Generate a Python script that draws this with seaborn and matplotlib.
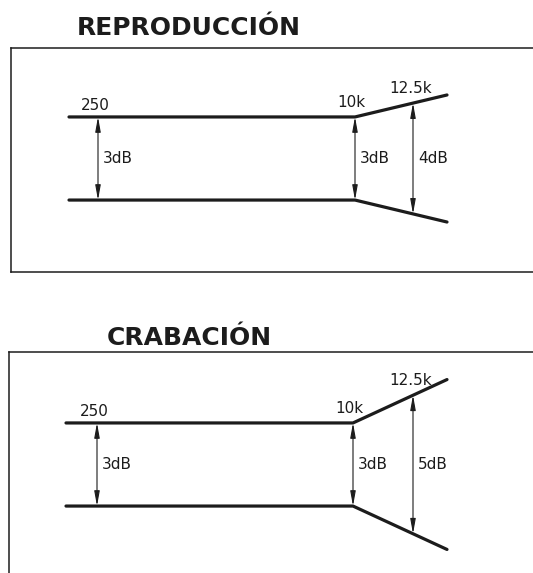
import pandas as pd
import matplotlib.pyplot as plt
import seaborn as sns

# tolerance windows (dB) at each reference frequency
titles = ["REPRODUCCIÓN", "CRABACIÓN"]
freq_labels = ["250", "10k", "12.5k"]
tol_reproduccion = [3, 3, 4]
tol_grabacion = [3, 3, 5]
tolerances = [tol_reproduccion, tol_grabacion]

W, H = 533, 573
PX_DB = 27.7  # pixels per dB in the schematic
INK = "#1c1c1c"

# layout of each panel in pixel units (box = left, top, right, bottom)
panels = [
    dict(box=(11, 48, 560, 272), center=158.5, title_y=28, start=69, end=447,
         marks=(98, 355, 413)),
    dict(box=(9, 352, 560, 610), center=464.5, title_y=338, start=66, end=447,
         marks=(97, 353, 413)),
]

sns.set_theme(style="white")
plt.rcParams["font.family"] = ["DejaVu Sans"]

fig = plt.figure(figsize=(W / 100, H / 100), dpi=100)
fig.patch.set_facecolor("white")

for title, tol, p in zip(titles, tolerances, panels):
    l, t, r, b = p["box"]
    ax = fig.add_axes([l / W, 1 - b / H, (r - l) / W, (b - t) / H])
    ax.set_xlim(l, r)
    ax.set_ylim((p["center"] - b) / PX_DB, (p["center"] - t) / PX_DB)
    ax.set_xticks([])
    ax.set_yticks([])
    for s in ax.spines.values():
        s.set_color(INK)
        s.set_linewidth(1.1)

    m0, m1, m2 = p["marks"]
    half = [v / 2 for v in tol]
    end_half = half[1] + (half[2] - half[1]) * (p["end"] - m1) / (m2 - m1)

    xs = [p["start"], m1, p["end"]]
    ups = [half[0], half[1], end_half]
    df = pd.DataFrame({
        "x": xs + xs,
        "y": ups + [-v for v in ups],
        "edge": ["upper"] * 3 + ["lower"] * 3,
    })
    sns.lineplot(data=df, x="x", y="y", units="edge", estimator=None,
                 sort=False, color=INK, lw=2.3, legend=False, ax=ax)
    ax.set_xlabel("")
    ax.set_ylabel("")

    for x, h, v in zip(p["marks"], half, tol):
        ax.annotate("", xy=(x, h), xytext=(x, -h),
                    arrowprops=dict(arrowstyle="<|-|>,head_length=1.1,head_width=0.2",
                                    mutation_scale=8, lw=0.8, color=INK,
                                    shrinkA=0, shrinkB=0))
        ax.annotate(f"{v}dB", xy=(x, 0), xytext=(5, 0), textcoords="offset pixels",
                    ha="left", va="center", fontsize=11, color=INK)

    ax.annotate(freq_labels[0], xy=(m0 - 17, half[0]), xytext=(0, 7),
                textcoords="offset pixels", ha="left", va="baseline",
                fontsize=11, color=INK)
    ax.annotate(freq_labels[1], xy=(m1 + 10, half[1]), xytext=(0, 10),
                textcoords="offset pixels", ha="right", va="baseline",
                fontsize=11, color=INK)
    ax.annotate(freq_labels[2], xy=(m2, half[2]), xytext=(-2, 10),
                textcoords="offset pixels", ha="center", va="baseline",
                fontsize=11, color=INK)

    fig.text(189 / W, 1 - p["title_y"] / H, title, ha="center", va="center",
             fontsize=18, fontweight="bold", color=INK)

fig.savefig("out.png", dpi=100, facecolor="white")
